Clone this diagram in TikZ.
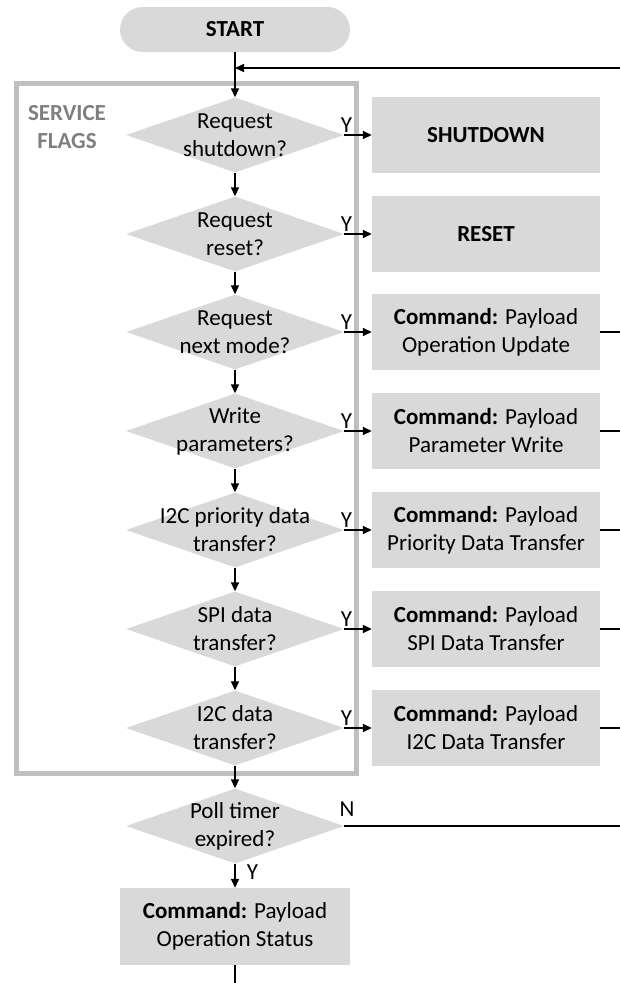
\documentclass[tikz,border=0pt]{standalone}
\usepackage{fontspec}
\setmainfont{Carlito}
\definecolor{boxgrey}{RGB}{217,217,217}
\definecolor{framegrey}{RGB}{191,191,191}
\definecolor{labelgrey}{RGB}{127,127,127}
\usetikzlibrary{calc}
\usetikzlibrary{arrows.meta,shapes.geometric}
\tikzset{
  every node/.style={font=\fontsize{23}{28}\selectfont},
  decision/.style={diamond, fill=boxgrey, minimum width=218pt, minimum height=75pt, inner sep=0pt},
  process/.style={rectangle, fill=boxgrey, align=center, inner sep=0pt},
  flow/.style={line width=1.6pt, -{Triangle[length=9pt,width=8pt]}},
  wire/.style={line width=1.6pt},
  flag/.style={inner sep=2pt},
}

\begin{document}
\begin{tikzpicture}[x=1pt, y=-1pt]
  \useasboundingbox (0,0) rectangle (620,983);

  % service flags frame
  \draw [framegrey, line width=5pt] (16.5,83.5) rectangle (356.5,773.5);
  \node [text=labelgrey, align=center, font=\fontsize{23}{28}\selectfont\bfseries] (flaglabel) at (67,127) {SERVICE\\FLAGS};

  \node [process, rounded corners=22.5pt, minimum width=230pt, minimum height=45pt] (start) at (235,29.5) {\textbf{START}};
  \coordinate (ret) at (620,68);
  \coordinate (bottom) at (235,983);

  \foreach \i/\y/\ask/\task in {
    1/135/{Request\\shutdown?}/{\textbf{SHUTDOWN}},
    2/234/{Request\\reset?}/{\textbf{RESET}},
    3/332/{Request\\next mode?}/{\textbf{Command:} Payload\\Operation Update},
    4/431/{Write\\parameters?}/{\textbf{Command:} Payload\\Parameter Write},
    5/530/{I2C priority data\\transfer?}/{\textbf{Command:} Payload\\Priority Data Transfer},
    6/629/{SPI data\\transfer?}/{\textbf{Command:} Payload\\SPI Data Transfer},
    7/728/{I2C data\\transfer?}/{\textbf{Command:} Payload\\I2C Data Transfer}} {
    \node [decision, label={[align=center]center:\ask}] (d\i) at (235,\y) {};
    \node [process, minimum width=228pt, minimum height=76pt] (b\i) at (486,\y) {\task};
    \draw [flow] (d\i) -- node [flag, above, pos=0.08] {Y} (b\i);
  }

  \node [decision, label={[align=center]center:Poll timer\\expired?}] (poll) at (235,826) {};
  \node [process, minimum width=230pt, minimum height=77pt] (status) at (235,926.5) {\textbf{Command:} Payload\\Operation Status};

  \draw [flow] (start) -- (d1);
  \draw [flow] (ret) -- (start |- ret);
  \foreach \i [evaluate=\i as \j using int(\i+1)] in {1,...,6} {
    \draw [flow] (d\i) -- (d\j);
  }
  \draw [flow] (d7) -- (poll);

  % return lines to the loop
  \foreach \i in {3,...,7} {
    \draw [wire] (b\i) -- (b\i -| ret);
  }
  \draw [wire] (poll) -- node [flag, above, pos=0.01, yshift=7pt] {N} (poll -| ret);

  \draw [flow] (poll) -- node [flag, right, pos=0.35, xshift=9pt] {Y} (status);
  \draw [wire] (status) -- (bottom);

\end{tikzpicture}
\end{document}
